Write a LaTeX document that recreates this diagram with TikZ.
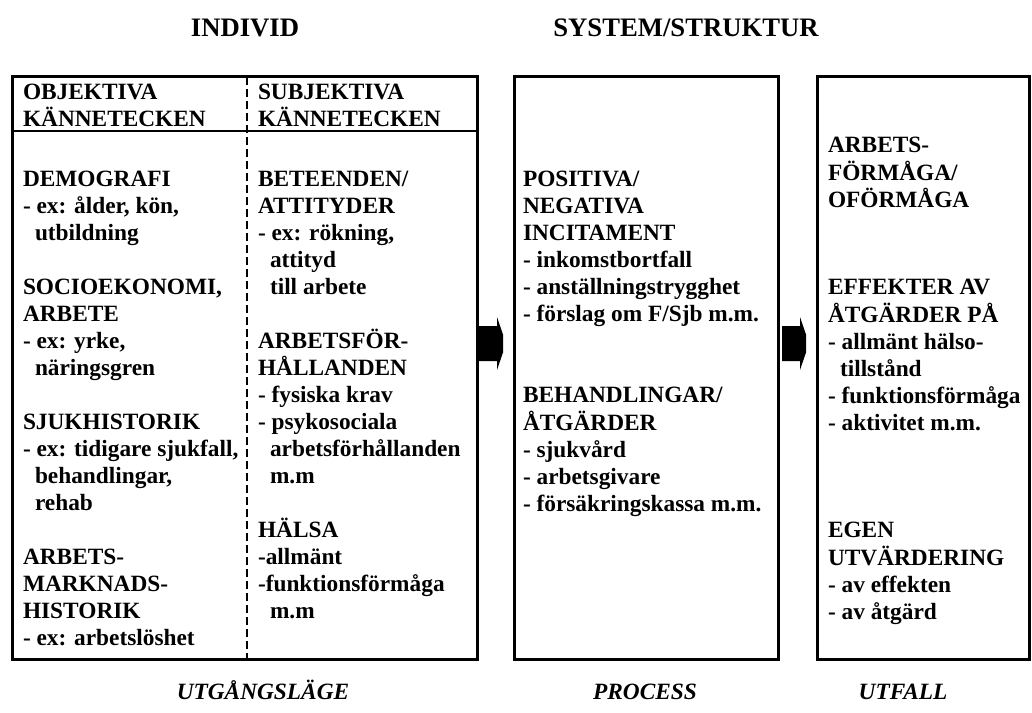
\documentclass[tikz,border=0pt]{standalone}
\usepackage{fontspec}
\setmainfont{Liberation Serif}
\newcommand\blk[1]{\begin{tabular}[t]{@{}l@{}}#1\end{tabular}}
\newcommand\ind{\hspace*{9pt}}
\begin{document}
\begin{tikzpicture}[x=0.75pt,y=-0.75pt,
  box/.style={draw,line width=2.25pt,inner sep=0pt,outer sep=0pt,rectangle},
  txt/.style={anchor=base west,inner sep=0pt,outer sep=0pt,font=\fontsize{17.5}{20.25}\selectfont\bfseries},
  hdrtxt/.style={txt,font=\fontsize{17.5}{18.75}\selectfont\bfseries},
  toptxt/.style={txt,font=\fontsize{17.5}{19.5}\selectfont\bfseries},
  title/.style={anchor=base,inner sep=0pt,font=\fontsize{20}{22}\selectfont\bfseries},
  foot/.style={anchor=base,inner sep=0pt,font=\fontsize{17.5}{22}\selectfont\bfseries\itshape},
  sepline/.style={line width=1.5pt},
  dashline/.style={line width=1.6pt,dash pattern=on 6pt off 3pt},
  blockarrow/.style={fill=black}]
\useasboundingbox (0,0) rectangle (1032,713);

% titles
\node[title] (tind) at (245,37) {INDIVID};
\node[title] (tsys) at (686,37) {SYSTEM/STRUKTUR};

% boxes
\node[box,minimum width=348.75pt,minimum height=436.5pt] (lbox) at (244.5,368) {};
\node[box,minimum width=198pt,minimum height=436.5pt] (mbox) at (646,368) {};
\node[box,minimum width=159pt,minimum height=436.5pt] (rbox) at (923,368) {};

% header separator and dashed divider
\coordinate (sepL) at (12,131);
\coordinate (sepR) at (477,131);
\draw[sepline] (sepL) -- (sepR);
\coordinate (dTop) at (247,77);
\coordinate (dBot) at (247,659);
\draw[dashline] (dTop) -- (dBot);

% left column
\node[hdrtxt] (objh) at (23,100) {\blk{OBJEKTIVA\\KÄNNETECKEN}};
\node[txt] (demo) at (23,186.5) {\blk{DEMOGRAFI\\- ex: ålder, kön,\\\ind utbildning}};
\node[txt] (socio) at (23,294.5) {\blk{SOCIOEKONOMI,\\ARBETE\\- ex: yrke,\\\ind näringsgren}};
\node[txt] (sjuk) at (23,429.5) {\blk{SJUKHISTORIK\\- ex: tidigare sjukfall,\\\ind behandlingar,\\\ind rehab}};
\node[txt] (arbm) at (23,564.5) {\blk{ARBETS-\\MARKNADS-\\HISTORIK\\- ex: arbetslöshet}};

% right column of left box
\node[hdrtxt] (subh) at (258,100) {\blk{SUBJEKTIVA\\KÄNNETECKEN}};
\node[txt] (bet) at (258,186.5) {\blk{BETEENDEN/\\ATTITYDER\\- ex: rökning,\\\ind attityd\\\ind till arbete}};
\node[txt] (arbf) at (258,348.5) {\blk{ARBETSFÖR-\\HÅLLANDEN\\- fysiska krav\\- psykosociala\\\ind arbetsförhållanden\\\ind m.m}};
\node[txt] (hals) at (258,537.5) {\blk{HÄLSA\\-allmänt\\-funktionsförmåga\\\ind m.m}};

% middle box
\node[txt] (pos) at (523,186.5) {\blk{POSITIVA/\\NEGATIVA\\INCITAMENT\\- inkomstbortfall\\- anställningstrygghet\\- förslag om F/Sjb m.m.}};
\node[txt] (beh) at (523,402.5) {\blk{BEHANDLINGAR/\\ÅTGÄRDER\\- sjukvård\\- arbetsgivare\\- försäkringskassa m.m.}};

% right box
\node[toptxt] (arbf2) at (828,153) {\blk{ARBETS-\\FÖRMÅGA/\\OFÖRMÅGA}};
\node[txt] (eff) at (828,294.5) {\blk{EFFEKTER AV\\ÅTGÄRDER PÅ\\- allmänt hälso-\\\ind tillstånd\\- funktionsförmåga\\- aktivitet m.m.}};
\node[txt] (egen) at (828,537.5) {\blk{EGEN\\UTVÄRDERING\\- av effekten\\- av åtgärd}};

% block arrows
\coordinate (a1) at (479,343.5);
\coordinate (a2) at (782,343.5);
\foreach \a in {a1,a2}{
  \fill[blockarrow] (\a) ++(0,-17.5) -- ++(18,0) -- ++(0,-9) -- ++(6,17.5) -- ++(0,18) -- ++(-6,17.5) -- ++(0,-9) -- ++(-18,0) -- cycle;
}

% footers
\node[foot] (futg) at (263,699) {UTGÅNGSLÄGE};
\node[foot] (fproc) at (645,699) {PROCESS};
\node[foot] (futf) at (903,699) {UTFALL};
\end{tikzpicture}
\end{document}
